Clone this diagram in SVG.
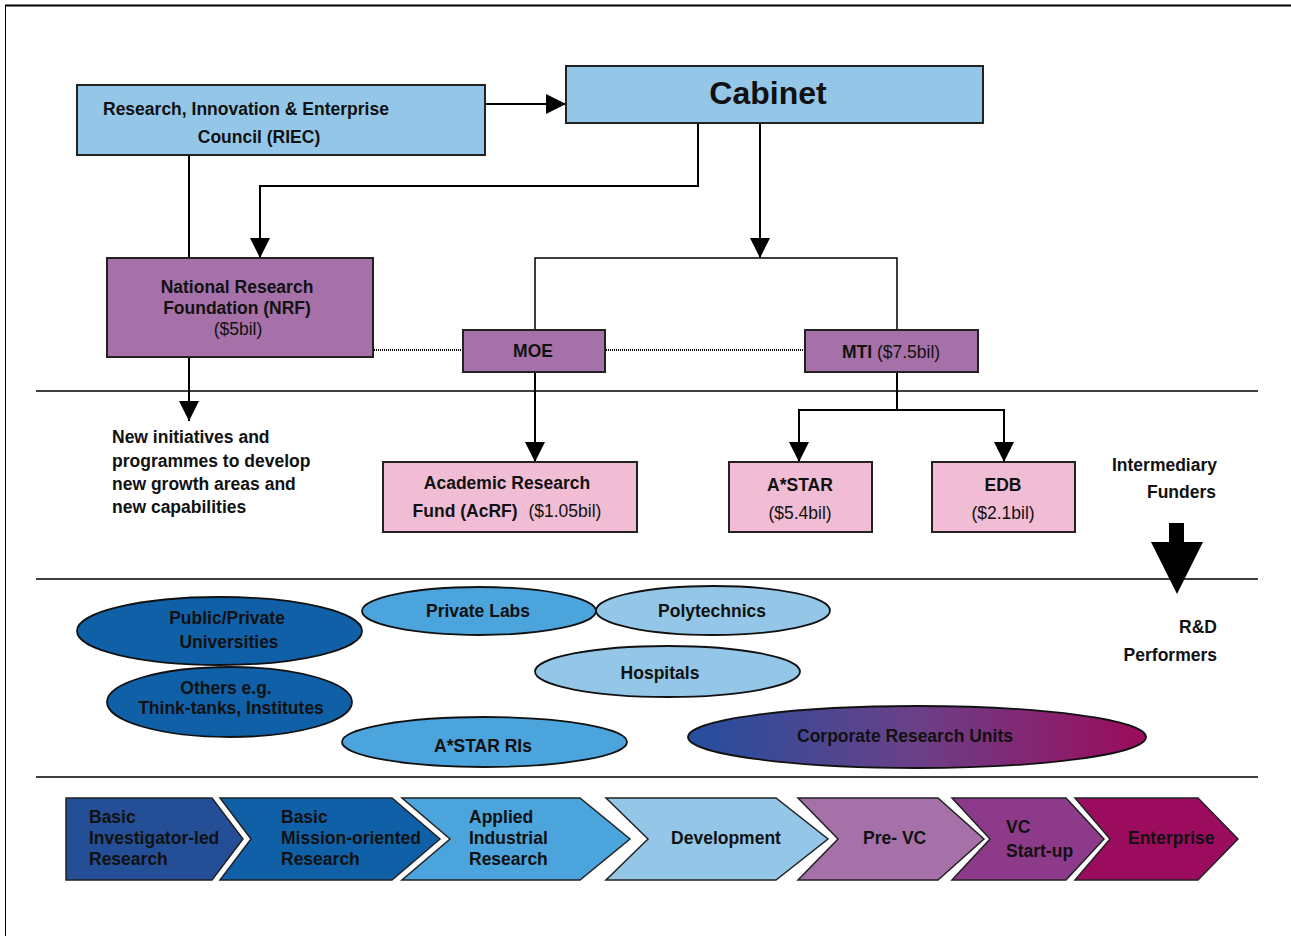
<svg xmlns="http://www.w3.org/2000/svg" width="1291" height="936" viewBox="0 0 1291 936">
<style>
text{font-family:"Liberation Sans",Arial,sans-serif;font-size:17.5px;fill:#111;}
.b{font-weight:bold;}
.r{font-weight:normal;}
.m{text-anchor:middle;}
.e{text-anchor:end;}
.box{stroke:#222;stroke-width:2;}
.lb{fill:#94c7e7;}
.mb{fill:#4ba4dc;}
.db{fill:#1060a8;}
.nv{fill:#244f96;}
.pu{fill:#a571a8;}
.dp{fill:#8e3a8a;}
.mg{fill:#9b0c5f;}
.pk{fill:#f1bdd4;}
.ell{stroke:#111;stroke-width:1.8;}
.chev{stroke:#222;stroke-width:1.5;}
.conn line,.conn polyline{stroke:#000;stroke-width:2;fill:none;}
.dot{stroke:#000;stroke-width:1;stroke-dasharray:1 1;}
.sep{stroke:#000;stroke-width:1.5;}
</style>
<defs>
<marker id="ah" markerUnits="userSpaceOnUse" markerWidth="20" markerHeight="20" refX="20" refY="10" orient="auto">
<path d="M0,0 L20,10 L0,20 z" fill="#000"/>
</marker>
<linearGradient id="corp" x1="0" y1="0" x2="1" y2="0">
<stop offset="0" stop-color="#234f9e"/>
<stop offset="0.5" stop-color="#6b4088"/>
<stop offset="1" stop-color="#9c0b5c"/>
</linearGradient>
</defs>
<rect width="1291" height="936" fill="#fff"/>
<line x1="5" y1="5.5" x2="1291" y2="5.5" stroke="#000" stroke-width="2"/>
<line x1="5.5" y1="5" x2="5.5" y2="936" stroke="#000" stroke-width="1"/>
<line class="sep" x1="36" y1="391" x2="1258" y2="391"/>
<line class="sep" x1="36" y1="579" x2="1258" y2="579"/>
<line class="sep" x1="36" y1="777" x2="1258" y2="777"/>

<g class="conn" id="connectors">
<line x1="485" y1="104" x2="566" y2="104" marker-end="url(#ah)"/>
<polyline points="698,124 698,186 260,186 260,258" marker-end="url(#ah)"/>
<line x1="189" y1="156" x2="189" y2="258"/>
<line x1="760" y1="124" x2="760" y2="258" marker-end="url(#ah)"/>
<polyline points="535,330 535,258 897,258 897,330" style="stroke-width:1.5"/>
<line x1="189" y1="357" x2="189" y2="421" marker-end="url(#ah)"/>
<line x1="535" y1="372" x2="535" y2="462" marker-end="url(#ah)"/>
<line x1="897" y1="372" x2="897" y2="410"/>
<polyline points="799,462 799,410 1004,410 1004,462" style="stroke-width:2"/>
<line x1="799" y1="410" x2="799" y2="462" marker-end="url(#ah)"/>
<line x1="1004" y1="410" x2="1004" y2="462" marker-end="url(#ah)"/>
<line class="dot" x1="374" y1="350" x2="463" y2="350"/>
<line class="dot" x1="606" y1="350" x2="805" y2="350"/>
</g>

<g id="riec">
<rect class="box lb" x="77" y="85" width="408" height="70"/>
<text class="b" x="103" y="115">Research, Innovation &amp; Enterprise</text>
<text class="b m" x="259" y="143">Council (RIEC)</text>
</g>
<g id="cabinet">
<rect class="box lb" x="566" y="66" width="417" height="57"/>
<text class="b m" x="768" y="104" style="font-size:32px">Cabinet</text>
</g>
<g id="nrf">
<rect class="box pu" x="107" y="258" width="266" height="99"/>
<text class="b m" x="237" y="293">National Research</text>
<text class="b m" x="237" y="314">Foundation (NRF)</text>
<text class="r m" x="238" y="335">($5bil)</text>
</g>
<g id="moe">
<rect class="box pu" x="463" y="330" width="142" height="42"/>
<text class="b m" x="533" y="357">MOE</text>
</g>
<g id="mti">
<rect class="box pu" x="805" y="330" width="173" height="42"/>
<text class="m" x="891" y="358"><tspan class="b">MTI</tspan><tspan class="r"> ($7.5bil)</tspan></text>
</g>
<g id="newinit">
<text class="b" x="112" y="443">New initiatives and</text>
<text class="b" x="112" y="467">programmes to develop</text>
<text class="b" x="112" y="490">new growth areas and</text>
<text class="b" x="112" y="513">new capabilities</text>
</g>
<g id="acrf">
<rect class="box pk" x="383" y="462" width="254" height="70"/>
<text class="b m" x="507" y="489">Academic Research</text>
<text class="m" x="507" y="517"><tspan class="b">Fund (AcRF)</tspan><tspan class="r" dx="6"> ($1.05bil)</tspan></text>
</g>
<g id="astar">
<rect class="box pk" x="729" y="462" width="143" height="70"/>
<text class="b m" x="800" y="491">A*STAR</text>
<text class="r m" x="800" y="519">($5.4bil)</text>
</g>
<g id="edb">
<rect class="box pk" x="932" y="462" width="143" height="70"/>
<text class="b m" x="1003" y="491">EDB</text>
<text class="r m" x="1003" y="519">($2.1bil)</text>
</g>
<g id="intermediary">
<text class="b e" x="1217" y="471">Intermediary</text>
<text class="b e" x="1216" y="498">Funders</text>
<rect x="1169" y="523" width="15" height="20" fill="#000"/>
<path d="M1151,542 L1203,542 L1177,594 z" fill="#000"/>
</g>
<g id="performers">
<text class="b e" x="1217" y="633">R&amp;D</text>
<text class="b e" x="1217" y="661">Performers</text>
</g>

<g id="universities">
<ellipse class="ell db" cx="219.5" cy="631" rx="142.5" ry="34"/>
<text class="b m" x="227" y="624">Public/Private</text>
<text class="b m" x="229" y="648">Universities</text>
</g>
<g id="others">
<ellipse class="ell db" cx="229.5" cy="702" rx="122.5" ry="35"/>
<text class="b m" x="226" y="694">Others e.g.</text>
<text class="b m" x="231" y="714">Think-tanks, Institutes</text>
</g>
<g id="privatelabs">
<ellipse class="ell mb" cx="479" cy="611" rx="117" ry="24"/>
<text class="b m" x="478" y="617">Private Labs</text>
</g>
<g id="polytechnics">
<ellipse class="ell lb" cx="713" cy="610.5" rx="117" ry="24.5"/>
<text class="b m" x="712" y="617">Polytechnics</text>
</g>
<g id="hospitals">
<ellipse class="ell lb" cx="667.5" cy="671.5" rx="132.5" ry="25.5"/>
<text class="b m" x="660" y="679">Hospitals</text>
</g>
<g id="astarris">
<ellipse class="ell mb" cx="484.5" cy="742" rx="142.5" ry="25"/>
<text class="b m" x="483" y="752">A*STAR RIs</text>
</g>
<g id="corporate">
<ellipse class="ell" cx="917" cy="737" rx="229" ry="31" fill="url(#corp)"/>
<text class="b m" x="905" y="742">Corporate Research Units</text>
</g>

<g id="stage1">
<path class="chev nv" d="M66,798 L212,798 L243,839 L212,880 L66,880 z"/>
<text class="b" x="89" y="823">Basic</text>
<text class="b" x="89" y="844">Investigator-led</text>
<text class="b" x="89" y="865">Research</text>
</g>
<g id="stage2">
<path class="chev db" d="M220,798 L392,798 L440,839 L392,880 L220,880 L251,839 z"/>
<text class="b" x="281" y="823">Basic</text>
<text class="b" x="281" y="844">Mission-oriented</text>
<text class="b" x="281" y="865">Research</text>
</g>
<g id="stage3">
<path class="chev mb" d="M402,798 L580,798 L630,839 L580,880 L402,880 L450,839 z"/>
<text class="b" x="469" y="823">Applied</text>
<text class="b" x="469" y="844">Industrial</text>
<text class="b" x="469" y="865">Research</text>
</g>
<g id="stage4">
<path class="chev lb" d="M606,798 L776,798 L828,839 L776,880 L606,880 L648,839 z"/>
<text class="b m" x="726" y="844">Development</text>
</g>
<g id="stage5">
<path class="chev pu" d="M798,798 L938,798 L984,839 L938,880 L798,880 L838,839 z"/>
<text class="b" x="863" y="844">Pre- VC</text>
</g>
<g id="stage6">
<path class="chev dp" d="M952,798 L1066,798 L1104,839 L1066,880 L952,880 L990,839 z"/>
<text class="b" x="1006" y="833">VC</text>
<text class="b" x="1006" y="857">Start-up</text>
</g>
<g id="stage7">
<path class="chev mg" d="M1075,798 L1198,798 L1238,839 L1198,880 L1075,880 L1110,839 z"/>
<text class="b" x="1128" y="844">Enterprise</text>
</g>
</svg>
